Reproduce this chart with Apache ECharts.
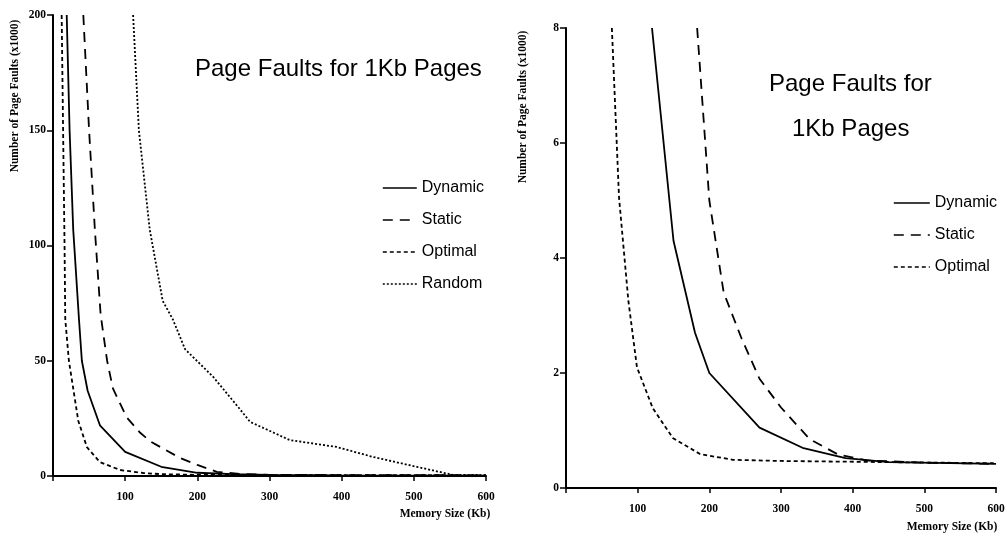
<!DOCTYPE html>
<html>
<head>
<meta charset="utf-8">
<script src="https://cdn.jsdelivr.net/npm/echarts@6/dist/echarts.min.js"></script>
<style>
  html, body { margin: 0; padding: 0; background: #fff; }
  #main { width: 1008px; height: 536px; }
</style>
</head>
<body>
<div id="main"></div>
<script>
// memory size (Kb), page faults (x1000)
var leftDynamic = [[19,200],[23,150],[28,107],[36,68],[40,50],[48,37],[65,22],[100,10.5],[150,4],[200,1.4],[250,0.8],[300,0.5],[400,0.3],[600,0.2]];
var leftStatic  = [[42,200],[50,150],[58,107],[66,70],[75,50],[83,38],[102,25.5],[120,19],[135,15],[176,7.8],[200,4.8],[227,1.8],[260,0.9],[300,0.5],[400,0.4],[600,0.3]];
var leftOptimal = [[12,200],[14,150],[16,100],[17,68],[22,50],[35,24],[47,12.5],[65,6],[93,2.6],[125,1.3],[150,0.8],[200,0.5],[300,0.4],[600,0.3]];
var leftRandom  = [[111,200],[119,150],[134,107],[152,76],[166,68],[183,55],[222,43],[259,29],[273,23.5],[328,15.6],[393,12.6],[443,8.3],[504,4],[554,0.5],[600,0.4]];

var rightDynamic = [[120,8],[150,4.3],[180,2.7],[200,2.0],[270,1.05],[330,0.7],[390,0.52],[450,0.45],[600,0.42]];
var rightStatic  = [[183,8],[200,5.0],[220,3.4],[245,2.6],[270,1.9],[300,1.4],[340,0.85],[380,0.58],[420,0.48],[500,0.44],[600,0.42]];
var rightOptimal = [[64,8],[74,5.05],[87,3.26],[99,2.1],[121,1.39],[149,0.87],[187,0.59],[233,0.49],[300,0.47],[600,0.43]];

var leftNames  = ['Dynamic', 'Static', 'Optimal', 'Random'];
var rightNames = ['Dynamic', 'Static', 'Optimal'];

var dash = {
  Dynamic: 'solid',
  Static: [10, 7],
  Optimal: [4, 3],
  Random: [2, 2]
};

var serif = 'Liberation Serif';
var sans = 'Liberation Sans';

function xAx(gridIndex) {
  return {
    type: 'value', gridIndex: gridIndex, min: 0, max: 600, interval: 100,
    axisLine: { lineStyle: { color: '#000', width: 2 } },
    axisTick: { inside: false, length: 5, lineStyle: { color: '#000', width: 1.5 } },
    axisLabel: {
      color: '#000', fontFamily: serif, fontWeight: 'bold', fontSize: 11.5, margin: 15,
      formatter: function (v) { return v === 0 ? '' : v; }
    },
    splitLine: { show: false }
  };
}
function yAx(gridIndex, max, step) {
  return {
    type: 'value', gridIndex: gridIndex, min: 0, max: max, interval: step,
    axisLine: { show: true, lineStyle: { color: '#000', width: 2 } },
    axisTick: { show: true, inside: false, length: 6, lineStyle: { color: '#000', width: 1.5 } },
    axisLabel: { color: '#000', fontFamily: serif, fontWeight: 'bold', fontSize: 11.5, margin: 7 },
    splitLine: { show: false }
  };
}
function line(name, data, idx) {
  return {
    name: name, type: 'line', data: data,
    xAxisIndex: idx, yAxisIndex: idx,
    symbol: 'none', smooth: false, clip: true,
    lineStyle: { color: '#000', width: 1.8, type: dash[name] },
    itemStyle: { color: '#000' },
    emphasis: { disabled: true }
  };
}

var chart = echarts.init(document.getElementById('main'));

var series = [];
series.push(line('Dynamic', leftDynamic, 0));
series.push(line('Static', leftStatic, 0));
series.push(line('Optimal', leftOptimal, 0));
series.push(line('Random', leftRandom, 0));
series.push(line('Dynamic', rightDynamic, 1));
series.push(line('Static', rightStatic, 1));
series.push(line('Optimal', rightOptimal, 1));

var legendBase = {
  orient: 'vertical', itemHeight: 14, itemGap: 16,
  selectedMode: false,
  textStyle: { color: '#000', fontFamily: sans, fontSize: 16, lineHeight: 14 },
  itemStyle: { opacity: 0 },
  lineStyle: { width: 1.6 }
};

chart.setOption({
  animation: false,
  backgroundColor: '#fff',
  title: [
    { text: 'Page Faults for 1Kb Pages', left: 195, top: 57, padding: 0,
      textStyle: { fontFamily: sans, fontSize: 24, fontWeight: 'normal', color: '#000' } },
    { text: 'Page Faults for', left: 769, top: 72, padding: 0,
      textStyle: { fontFamily: sans, fontSize: 24, fontWeight: 'normal', color: '#000' } },
    { text: '1Kb Pages', left: 792, top: 117, padding: 0,
      textStyle: { fontFamily: sans, fontSize: 24, fontWeight: 'normal', color: '#000' } }
  ],
  legend: [
    Object.assign({}, legendBase, { data: leftNames, left: 377, top: 175, itemWidth: 34 }),
    Object.assign({}, legendBase, { data: rightNames, left: 888, top: 190, itemWidth: 36 })
  ],
  grid: [
    { left: 53, right: 522, top: 15, bottom: 60, containLabel: false },
    { left: 566, right: 12, top: 28, bottom: 48, containLabel: false }
  ],
  xAxis: [xAx(0), xAx(1)],
  yAxis: [yAx(0, 200, 50), yAx(1, 8, 2)],
  series: series,
  graphic: [
    { type: 'text', x: 15, y: 96, rotation: Math.PI / 2,
      style: { text: 'Number of Page Faults (x1000)', fill: '#000', font: 'bold 11.5px "Liberation Serif"', align: 'center', verticalAlign: 'middle' } },
    { type: 'text', x: 523, y: 107, rotation: Math.PI / 2,
      style: { text: 'Number of Page Faults (x1000)', fill: '#000', font: 'bold 11.5px "Liberation Serif"', align: 'center', verticalAlign: 'middle' } },
    { type: 'text', x: 445, y: 514,
      style: { text: 'Memory Size (Kb)', fill: '#000', font: 'bold 11.5px "Liberation Serif"', align: 'center', verticalAlign: 'middle' } },
    { type: 'text', x: 952, y: 527,
      style: { text: 'Memory Size (Kb)', fill: '#000', font: 'bold 11.5px "Liberation Serif"', align: 'center', verticalAlign: 'middle' } }
  ]
});
</script>
</body>
</html>
